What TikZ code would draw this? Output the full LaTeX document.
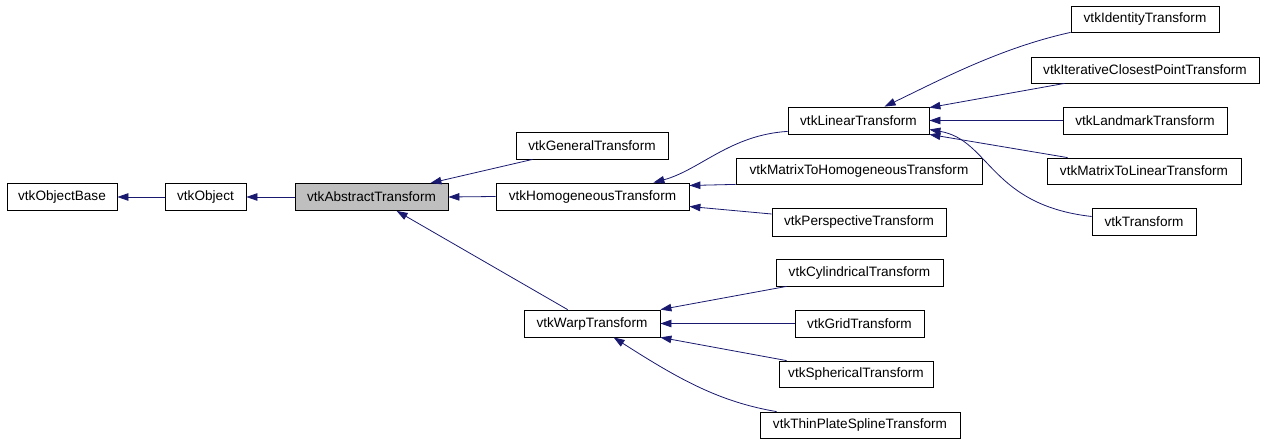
\documentclass[tikz,border=0pt]{standalone}
\usepackage{fontspec}
\setmainfont{Liberation Sans}
\usepackage{xcolor}
\usetikzlibrary{arrows.meta, calc}

\definecolor{edgeblue}{HTML}{191970}

\begin{document}
\begin{tikzpicture}[
    x=1pt, y=-1pt,
    >={Triangle[length=11pt, width=7.5pt]},
    cls/.style={rectangle, draw, line width=0.8pt, inner sep=0pt,
                minimum height=27pt, font=\fontsize{13.6}{15}\selectfont},
    current/.style={cls, fill=black!25},
    edge/.style={<-, edgeblue, line width=0.8pt},
]
    \useasboundingbox (0,0) rectangle (1264,443);

    % ── Base chain ────────────────────────────────
    \node[cls, minimum width=110pt] (base) at (62,197) {vtkObjectBase};
    \node[cls, minimum width=81pt] (obj) at (205.5,197) {vtkObject};
    \node[current, minimum width=153pt] (abs) at (371.5,197) {vtkAbstractTransform};

    % ── Direct subclasses ─────────────────────────
    \node[cls, minimum width=152pt] (gen) at (592,145.5) {vtkGeneralTransform};
    \node[cls, minimum width=193pt] (homog) at (592.5,196.5) {vtkHomogeneousTransform};
    \node[cls, minimum width=136pt] (warp) at (592,323.5) {vtkWarpTransform};

    % ── Homogeneous branch ────────────────────────
    \node[cls, minimum width=141pt] (lin) at (858.5,120.5) {vtkLinearTransform};
    \node[cls, minimum width=246pt, minimum height=26pt] (mtoh) at (859,171) {vtkMatrixToHomogeneousTransform};
    \node[cls, minimum width=174pt, minimum height=28pt] (persp) at (859,222) {vtkPerspectiveTransform};

    % ── Linear branch ─────────────────────────────
    \node[cls, minimum width=148pt, minimum height=26pt] (ident) at (1145,19) {vtkIdentityTransform};
    \node[cls, minimum width=228pt, minimum height=26pt] (icp) at (1145,70) {vtkIterativeClosestPointTransform};
    \node[cls, minimum width=164pt] (land) at (1145,120.5) {vtkLandmarkTransform};
    \node[cls, minimum width=194pt, minimum height=26pt] (mtol) at (1144,171) {vtkMatrixToLinearTransform};
    \node[cls, minimum width=104pt] (trans) at (1144,221.5) {vtkTransform};

    % ── Warp branch ───────────────────────────────
    \node[cls, minimum width=167pt] (cyl) at (859.5,272.5) {vtkCylindricalTransform};
    \node[cls, minimum width=129pt] (grid) at (859.5,323.5) {vtkGridTransform};
    \node[cls, minimum width=154pt, minimum height=26pt] (sph) at (856,374) {vtkSphericalTransform};
    \node[cls, minimum width=200pt, minimum height=26pt] (thin) at (860,425) {vtkThinPlateSplineTransform};

    % ── Inheritance edges ─────────────────────────
    \draw[edge] (base.east) -- (obj.west);
    \draw[edge] (obj.east) -- (abs.west);
    \draw[edge] ($(abs.north east)+(-18,0)$) -- ($(gen.south west)+(17,0)$);
    \draw[edge] (abs.east) -- (homog.west);
    \draw[edge] ($(abs.south west)+(102,0)$) -- ($(warp.north west)+(44,0)$);

    \draw[edge] ($(homog.north east)+(-36,0)$) .. controls (700,170) and (730,135) .. ($(lin.south west)+(0,-3)$);
    \draw[edge] ($(homog.east)+(0,-11)$) -- (mtoh.south west);
    \draw[edge] ($(homog.east)+(0,10)$) -- ($(persp.west)+(0,-8)$);

    \draw[edge] ($(lin.north west)+(97,0)$) .. controls (940,80) and (1000,48) .. (ident.south west);
    \draw[edge] ($(lin.north east)+(0,1)$) -- ($(icp.south west)+(34,0)$);
    \draw[edge] (lin.east) -- (land.west);
    \draw[edge] (lin.south east) -- ($(mtol.north west)+(21,0)$);
    \draw[edge] ($(lin.east)+(0,9)$) .. controls (990,140) and (990,205) .. ($(trans.west)+(0,-5)$);

    \draw[edge] (warp.north east) -- ($(cyl.south west)+(11,0)$);
    \draw[edge] (warp.east) -- (grid.west);
    \draw[edge] (warp.south east) -- ($(sph.north west)+(8,0)$);
    \draw[edge] ($(warp.south west)+(90,0)$) .. controls (680,380) and (720,402) .. ($(thin.north west)+(17,0)$);
\end{tikzpicture}
\end{document}
